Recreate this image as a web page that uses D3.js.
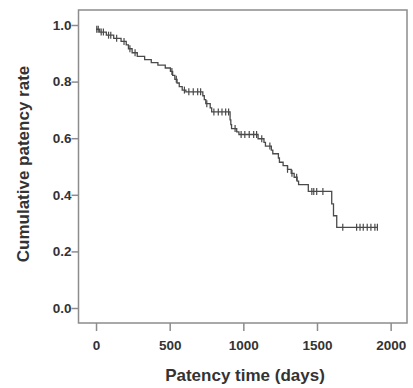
<!DOCTYPE html>
<meta charset="utf-8">
<head>
    <title>Cumulative patency</title>
</head>
<style>
    body {
        margin: 0;
        background-color: #fff;
    }

    svg {
        font-family: "Liberation Sans", Arial, sans-serif;
    }

    .axis path,
    .axis line {
        fill: none;
        stroke: #8c8c8c;
        stroke-width: 1.5px;
    }

    .axis text {
        font-size: 13.5px;
        font-weight: 700;
        fill: #333;
    }

    .frame {
        fill: none;
        stroke: #8c8c8c;
        stroke-width: 1.5px;
    }

    .curve {
        fill: none;
        stroke: #4a4a4a;
        stroke-width: 1.3px;
    }

    .censor {
        stroke: #4a4a4a;
        stroke-width: 1.2px;
    }

    .title {
        font-size: 17px;
        font-weight: 700;
        fill: #333;
    }
</style>
<body>
    <svg width="413" height="388"></svg>
</body>
<script src="https://cdn.jsdelivr.net/npm/d3@7"></script>
<script>
    // Kaplan-Meier steps (time in days, survival after the step)
    var startSurv = 0.985;
    var eventTimes = [25, 70, 120, 170, 205, 220, 245, 280, 330, 375, 420, 470, 505, 520, 535, 550, 565, 585, 610,
        725, 735, 745, 775, 785, 910, 915, 920, 955, 970, 1100, 1140, 1150, 1190, 1200, 1238, 1245, 1270, 1300,
        1325, 1345, 1365, 1375, 1441, 1600, 1612, 1634];
    var eventSurv = [0.975, 0.964, 0.953, 0.942, 0.930, 0.916, 0.902, 0.889, 0.878, 0.867, 0.858, 0.848, 0.836, 0.822,
        0.808, 0.795, 0.782, 0.770, 0.764, 0.750, 0.736, 0.722, 0.707, 0.693, 0.665, 0.648, 0.634, 0.622, 0.613,
        0.598, 0.585, 0.572, 0.558, 0.545, 0.530, 0.515, 0.503, 0.490, 0.476, 0.462, 0.448, 0.436, 0.412, 0.368,
        0.326, 0.285];
    var censorTimes = [5, 15, 35, 50, 85, 100, 140, 190, 230, 265, 515, 545, 600, 630, 660, 690, 710, 752, 800, 830,
        855, 880, 900, 944, 985, 1010, 1040, 1070, 1090, 1125, 1180, 1300, 1330, 1362, 1465, 1478, 1498, 1540,
        1675, 1769, 1792, 1814, 1841, 1866, 1893, 1910];
    var lastTime = 1910;

    var xTicks = [0, 500, 1000, 1500, 2000];
    var yTicks = [0.0, 0.2, 0.4, 0.6, 0.8, 1.0];

    var svg = d3.select("svg"),
        margin = { top: 10, right: 6, bottom: 65, left: 78.5 },
        width = +svg.attr("width") - margin.left - margin.right,
        height = +svg.attr("height") - margin.top - margin.bottom;

    var x = d3.scaleLinear().domain([-119, 2111]).range([0, width]);
    var y = d3.scaleLinear().domain([-0.053, 1.053]).range([height, 0]);

    var g = svg.append("g")
        .attr("transform", "translate(" + margin.left + "," + margin.top + ")");

    // box
    g.append("rect")
        .attr("class", "frame")
        .attr("x", 0).attr("y", 0)
        .attr("width", width).attr("height", height);

    var xAxis = d3.axisBottom(x).tickValues(xTicks).tickSize(8).tickPadding(9).tickFormat(d3.format("d"));
    var yAxis = d3.axisLeft(y).tickValues(yTicks).tickSize(7).tickPadding(0).tickFormat(d3.format(".1f"));

    g.append("g")
        .attr("class", "axis")
        .attr("transform", "translate(0," + height + ")")
        .call(xAxis)
        .call(a => a.select(".domain").remove());

    g.append("g")
        .attr("class", "axis")
        .call(yAxis)
        .call(a => a.select(".domain").remove());

    // step curve
    function survAt(t) {
        var s = startSurv;
        for (var i = 0; i < eventTimes.length; i++) {
            if (eventTimes[i] <= t) s = eventSurv[i];
        }
        return s;
    }

    var pts = [[0, startSurv]];
    var prev = startSurv;
    eventTimes.forEach(function (t, i) {
        pts.push([t, prev]);
        pts.push([t, eventSurv[i]]);
        prev = eventSurv[i];
    });
    pts.push([lastTime, prev]);

    g.append("path")
        .attr("class", "curve")
        .attr("d", d3.line().x(d => x(d[0])).y(d => y(d[1]))(pts));

    g.selectAll(".censor")
        .data(censorTimes)
        .enter()
        .append("line")
        .attr("class", "censor")
        .attr("x1", d => x(d)).attr("x2", d => x(d))
        .attr("y1", d => y(survAt(d)) - 3.5)
        .attr("y2", d => y(survAt(d)) + 3.5);

    // axis titles
    svg.append("text")
        .attr("class", "title")
        .attr("text-anchor", "middle")
        .attr("x", 245)
        .attr("y", 381)
        .text("Patency time (days)");

    svg.append("text")
        .attr("class", "title")
        .attr("text-anchor", "middle")
        .attr("transform", "translate(28.5,164) rotate(-90)")
        .text("Cumulative patency rate");
</script>
